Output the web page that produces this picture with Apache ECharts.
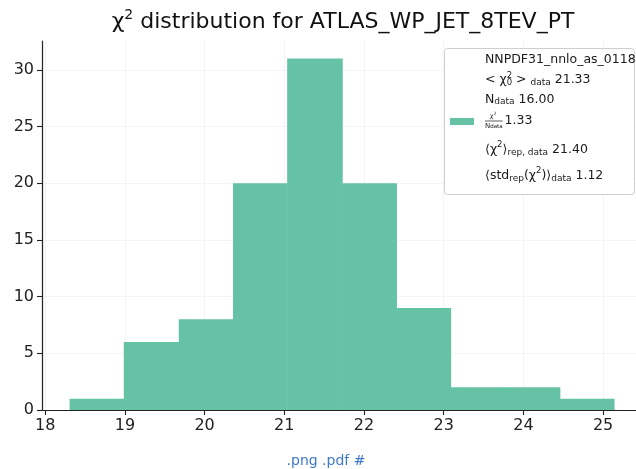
<!DOCTYPE html>
<html><head><meta charset="utf-8">
<script src="https://cdn.jsdelivr.net/npm/echarts@6/dist/echarts.min.js"></script>
<style>html,body{margin:0;padding:0;background:#fff}#c{width:636px;height:469px}</style>
</head><body><div id="c"></div>
<script>
// ---- data ----
const binEdges = [18.31, 18.99, 19.68, 20.36, 21.04, 21.73, 22.41, 23.09, 23.78, 24.46, 25.14];
const counts = [1, 6, 8, 20, 31, 20, 9, 2, 2, 1];
const xTicks = [18, 19, 20, 21, 22, 23, 24, 25];
const yTicks = [0, 5, 10, 15, 20, 25, 30];
const titleText = ' distribution for ATLAS_WP_JET_8TEV_PT';
const legendName = 'NNPDF31_nnlo_as_0118';
const statValues = ['21.33', '16.00', '1.33', '21.40', '1.12'];
const linkText = '.png .pdf #';

const FONT = 'DejaVu Sans';
const GREEN = '#66c2a5';
const cv = document.createElement('canvas').getContext('2d');
function tw(t, fs) { cv.font = fs + 'px "' + FONT + '"'; return cv.measureText(t).width; }

// segments: {t, fs, dy, noAdv}
function segs(x, y, list, align, color) {
  let total = 0;
  list.forEach(s => { if (!s.noAdv) total += tw(s.t, s.fs); });
  let cx = align === 'center' ? x - total / 2 : x;
  const out = [];
  list.forEach(s => {
    out.push({type: 'text', x: cx, y: y + (s.dy || 0), silent: true,
      style: {text: s.t, font: s.fs + 'px "' + FONT + '"', fill: color || '#1a1a1a',
        textAlign: 'left', textVerticalAlign: 'middle'}});
    if (!s.noAdv) cx += tw(s.t, s.fs);
  });
  return out;
}

const chart = echarts.init(document.getElementById('c'), null, {renderer: 'canvas'});
const data = counts.map((c, i) => [binEdges[i], binEdges[i + 1], c]);

const L = 12.5, S = 8.5;
const lx = 485;
let g = [];
// title
g = g.concat(segs(343, 22, [{t: 'χ', fs: 22}, {t: '2', fs: 14, dy: -7}, {t: titleText, fs: 22}], 'center', '#111'));
// legend box
g.push({type: 'rect', shape: {x: 444.5, y: 48.5, width: 190, height: 146, r: 3},
  style: {fill: 'rgba(255,255,255,0.85)', stroke: '#cfcfcf', lineWidth: 1}, z: 10});
g.push({type: 'rect', shape: {x: 450, y: 118, width: 24, height: 7}, style: {fill: GREEN}, z: 11});
const legLines = [];
legLines.push(segs(lx, 60, [{t: legendName, fs: L}]));
legLines.push(segs(lx, 80, [{t: '< χ', fs: L}, {t: '2', fs: S, dy: -4, noAdv: true}, {t: '0', fs: S, dy: 3},
  {t: ' > ', fs: L}, {t: 'data', fs: S + 0.5, dy: 3}, {t: ' ' + statValues[0], fs: L}]));
legLines.push(segs(lx, 100, [{t: 'N', fs: L}, {t: 'data', fs: S + 0.5, dy: 2}, {t: ' ' + statValues[1], fs: L}]));
// fraction
const fw = tw('data', 5.5) + tw('N', 7);
legLines.push(segs(lx + fw / 2 - tw('χ2', 6.5) / 2, 116, [{t: 'χ', fs: 6.5}, {t: '2', fs: 4.5, dy: -2}]));
legLines.push([{type: 'line', shape: {x1: lx, y1: 121, x2: lx + fw, y2: 121}, style: {stroke: '#1a1a1a', lineWidth: 0.7}}]);
legLines.push(segs(lx, 126, [{t: 'N', fs: 7}, {t: 'data', fs: 5.5, dy: 1}]));
legLines.push(segs(lx + fw + 2, 121, [{t: statValues[2], fs: L}]));
legLines.push(segs(lx, 150, [{t: '⟨χ', fs: L}, {t: '2', fs: S, dy: -5}, {t: '⟩', fs: L}, {t: 'rep, data', fs: S + 0.5, dy: 3},
  {t: ' ' + statValues[3], fs: L}]));
legLines.push(segs(lx, 176, [{t: '⟨std', fs: L}, {t: 'rep', fs: S + 0.5, dy: 3}, {t: '(χ', fs: L}, {t: '2', fs: S, dy: -5},
  {t: ')⟩', fs: L}, {t: 'data', fs: S + 0.5, dy: 3}, {t: ' ' + statValues[4], fs: L}]));
legLines.forEach(arr => arr.forEach(e => { e.z = 12; g.push(e); }));
// link
g.push({type: 'text', x: 326, y: 461, style: {text: linkText, font: '14px "' + FONT + '"', fill: '#3f78c9',
  textAlign: 'center', textVerticalAlign: 'middle'}});

chart.setOption({
  animation: false,
  backgroundColor: '#fff',
  grid: {left: 42, right: 0, top: 41, bottom: 59, containLabel: false},
  xAxis: {
    type: 'value', min: 17.96, max: 25.413,
    axisLine: {show: true, onZero: false, lineStyle: {color: '#222', width: 1.2}},
    axisTick: {show: true, length: 5, lineStyle: {color: '#222', width: 1.1}, customValues: xTicks},
    axisLabel: {customValues: xTicks, fontFamily: FONT, fontSize: 16, color: '#222', margin: 8},
    splitLine: {show: true, lineStyle: {color: '#f4f4f4', width: 1}}
  },
  yAxis: {
    type: 'value', min: 0, max: 32.55,
    axisLine: {show: true, lineStyle: {color: '#222', width: 1.2}},
    axisTick: {show: true, length: 5, lineStyle: {color: '#222', width: 1.1}, customValues: yTicks},
    axisLabel: {customValues: yTicks, fontFamily: FONT, fontSize: 16, color: '#222', margin: 8},
    splitLine: {show: true, lineStyle: {color: '#f4f4f4', width: 1}}
  },
  series: [{
    type: 'custom', z: 1,
    encode: {x: [0, 1], y: 2},
    data: data,
    renderItem: function (params, api) {
      const p0 = api.coord([api.value(0), 0]);
      const p1 = api.coord([api.value(1), api.value(2)]);
      return {type: 'rect', shape: {x: p0[0] - 0.3, y: p1[1], width: p1[0] - p0[0] + 0.6, height: p0[1] - p1[1]},
        style: {fill: GREEN}};
    }
  }],
  graphic: g
});
</script></body></html>
